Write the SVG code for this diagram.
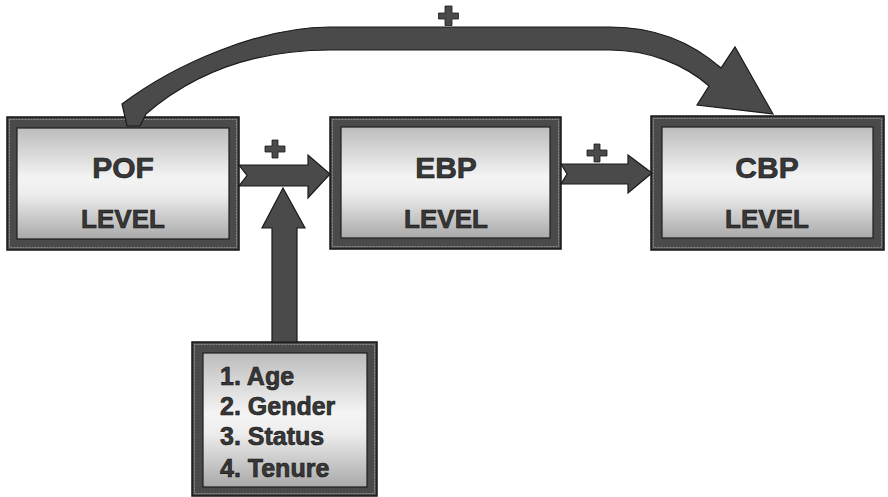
<svg xmlns="http://www.w3.org/2000/svg" width="888" height="497" viewBox="0 0 888 497">
<defs>
<linearGradient id="g" x1="0" y1="0" x2="0" y2="1">
<stop offset="0" stop-color="#bcbcbc"/>
<stop offset="0.45" stop-color="#f4f4f4"/>
<stop offset="0.6" stop-color="#ededed"/>
<stop offset="1" stop-color="#a9a9a9"/>
</linearGradient>
<style>
.frame{fill:#4a4a4a;stroke:#151515;stroke-width:1.5}
.tex{fill:none;stroke:#8c8c8c;stroke-width:1;stroke-dasharray:2 1}
.inner{fill:url(#g);stroke:#1e1e1e;stroke-width:1.2}
.t{font-family:"Liberation Sans",Arial,sans-serif;font-weight:bold;fill:#383838;stroke:#111;stroke-width:0.6;text-anchor:middle}
.big{font-size:30px}
.lv{font-size:26px}
.li{font-family:"Liberation Sans",Arial,sans-serif;font-weight:bold;fill:#383838;stroke:#111;stroke-width:0.6;font-size:25px}
.arr{fill:#4a4a4a;stroke:#1a1a1a;stroke-width:1.2;stroke-linejoin:miter}
.plus{fill:#4a4a4a;stroke:#1a1a1a;stroke-width:0.8}
</style>
</defs>
<rect width="888" height="497" fill="#ffffff"/>

<g id="node-pof">
<rect class="frame" x="7" y="117" width="232" height="133"/>
<rect class="tex" x="9.5" y="119.5" width="227" height="128"/>
<rect class="inner" x="17" y="128" width="212" height="111"/>
<text class="t big" x="123" y="178">POF</text>
<text class="t lv" x="123" y="228">LEVEL</text>
</g>

<g id="node-ebp">
<rect class="frame" x="330" y="117" width="231" height="132"/>
<rect class="tex" x="332.5" y="119.5" width="226" height="127"/>
<rect class="inner" x="341" y="127" width="209" height="111"/>
<text class="t big" x="446" y="178">EBP</text>
<text class="t lv" x="446" y="228">LEVEL</text>
</g>

<g id="node-cbp">
<rect class="frame" x="651" y="116" width="233" height="134"/>
<rect class="tex" x="653.5" y="118.5" width="228" height="129"/>
<rect class="inner" x="662" y="127" width="211" height="111"/>
<text class="t big" x="767" y="178">CBP</text>
<text class="t lv" x="767" y="228">LEVEL</text>
</g>

<g id="node-factors">
<rect class="frame" x="192" y="342" width="185" height="154"/>
<rect class="tex" x="194.5" y="344.5" width="180" height="149"/>
<rect class="inner" x="203" y="353" width="164" height="134"/>
<text class="li" x="220" y="385">1. Age</text>
<text class="li" x="220" y="415">2. Gender</text>
<text class="li" x="220" y="445">3. Status</text>
<text class="li" x="220" y="477">4. Tenure</text>
</g>

<g id="connectors">
<path class="arr" d="M239,165 L308,165 L308,155 L330,174 L308,198 L308,186 L239,186 L247,175.5 Z"/>
<path class="arr" d="M561,164 L628,164 L628,155 L652,173 L628,193 L628,184 L561,184 L567,174 Z"/>
<path class="arr" d="M272,342 L272,228 L262,228 L283,188 L305,228 L297,228 L297,342 Z"/>
<path class="arr" d="M122,104 C175,64 260,27 330,27 L610,27 C660,27 695,45 721,68 L735,47 L773,114 L697,105 L709,86 C685,65 650,50 610,50 L330,50 C250,50 190,76 146,114 L140,126 L127,126 Z"/>
<path class="plus" d="M272,140 h6 v6 h7 v6 h-7 v6 h-6 v-6 h-7 v-6 h7 Z"/>
<path class="plus" d="M594,144 h6 v6 h7 v6 h-7 v6 h-6 v-6 h-7 v-6 h7 Z"/>
<path class="plus" d="M445,6 h7 v7 h6.5 v6 h-6.5 v6.5 h-7 v-6.5 h-6.5 v-6 h6.5 Z"/>
</g>
</svg>
